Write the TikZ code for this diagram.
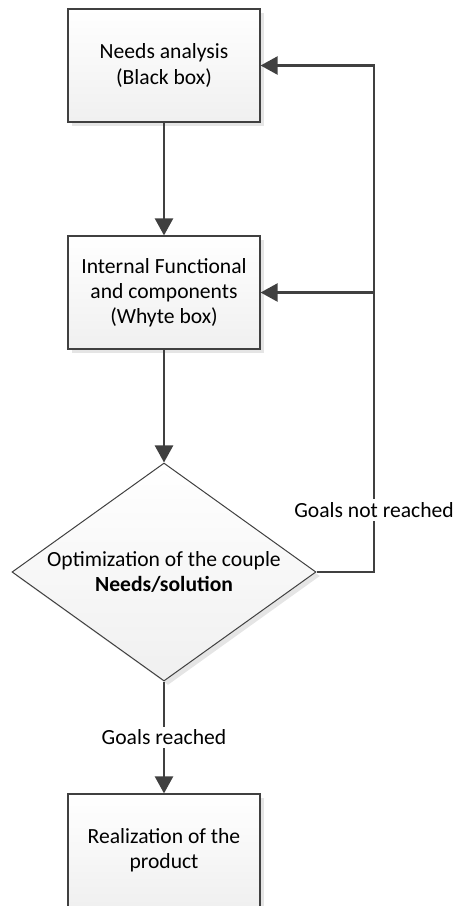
\documentclass[tikz,border=0pt]{standalone}
\usepackage{fontspec}
\setmainfont{Carlito}
\usetikzlibrary{shapes.geometric,shadows,arrows.meta}
\definecolor{linegray}{HTML}{404040}
\tikzset{
  stagebox/.style={draw=linegray, line width=0.6pt, top color=white, bottom color=gray!12,
    minimum width=96pt, minimum height=56.5pt, align=center,
    drop shadow={shadow xshift=2pt, shadow yshift=-2pt, fill=black!10, opacity=1}},
  decision/.style={diamond, draw=linegray, line width=0.5pt, top color=white, bottom color=gray!12,
    minimum width=152pt, minimum height=109pt, inner sep=0pt, aspect=1.4, align=center,
    drop shadow={shadow xshift=2pt, shadow yshift=-2pt, fill=black!10, opacity=1}},
  flow/.style={draw=linegray, line width=1.2pt, -{Triangle[length=8.5pt,width=9pt]}},
  flowlabel/.style={fill=white, inner sep=1.5pt}
}
\begin{document}
\begin{tikzpicture}[x=0.5pt,y=-0.5pt,font=\fontsize{10.8}{12.6}\selectfont]
  \clip (0,0) rectangle (455,906);
  \node[stagebox] (needs) at (164,65.5) {Needs analysis\\(Black box)};
  \node[stagebox] (internal) at (164,292.5) {Internal Functional\\and components\\(Whyte box)};
  \node[decision] (optim) at (164,572) {Optimization of the couple\\\textbf{Needs/solution}};
  \node[stagebox] (real) at (164,850.5) {Realization of the\\product};
  \coordinate (loop) at (374,572);

  \draw[flow] (needs) -- (internal);
  \draw[flow] (internal) -- (optim);
  \draw[flow] (optim.south) -- (real.north) node[midway,flowlabel] (reached) {Goals reached};
  % back to the first two stages
  \draw[flow] (optim.east) -- (loop) -- (loop |- needs.east) -- (needs.east);
  \draw[flow] (loop |- internal.east) -- (internal.east);
  \node[flowlabel] (notreached) at (374,510) {Goals not reached};
\end{tikzpicture}
\end{document}
